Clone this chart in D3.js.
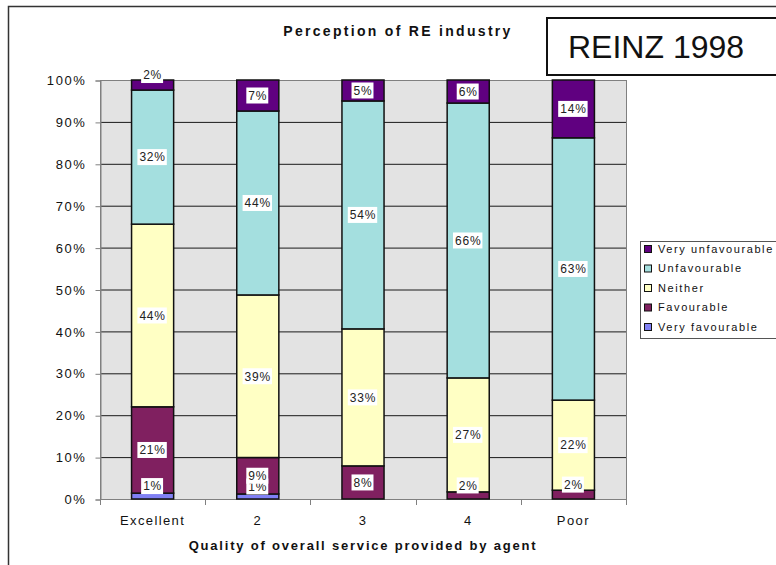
<!DOCTYPE html>
<html>
<head>
<meta charset="utf-8">
<script src="https://cdn.jsdelivr.net/npm/d3@7"></script>
<style>
  body { margin: 0; background: #fff; }
  text { font-family: "Liberation Sans", Arial, sans-serif; }
</style>
</head>
<body>
<div id="chart"></div>
<script>
// categories and series (percent of respondents)
var categories = ["Excellent", "2", "3", "4", "Poor"];
var seriesNames = ["Very favourable", "Favourable", "Neither", "Unfavourable", "Very unfavourable"];
var veryFavourable   = [1.4, 1.2, 0, 0, 0];
var favourable       = [20.6, 8.7, 7.9, 1.7, 2.1];
var neither          = [43.6, 38.8, 32.7, 27.2, 21.5];
var unfavourable     = [32.0, 43.9, 54.4, 65.6, 62.6];
var veryUnfavourable = [2.4, 7.4, 5.0, 5.5, 13.8];
var yTicks = [0, 10, 20, 30, 40, 50, 60, 70, 80, 90, 100];

var colors = {
    "Very favourable": "#8080f4",
    "Favourable": "#802060",
    "Neither": "#ffffc4",
    "Unfavourable": "#a4dfdf",
    "Very unfavourable": "#600080"
};

var svgWidth = 776, svgHeight = 565;
var plot = { left: 100, top: 80, right: 626, bottom: 499 };

var svg = d3.select("#chart").append("svg")
    .attr("width", svgWidth)
    .attr("height", svgHeight);

// outer chart frame (runs off the page on right and bottom)
svg.append("rect")
    .attr("x", 8.5).attr("y", 6.5)
    .attr("width", 820).attr("height", 620)
    .attr("fill", "#fff")
    .attr("stroke", "#333")
    .attr("stroke-width", 1.5);

// build rows for the stack
var rows = categories.map(function (c, i) {
    return {
        cat: c,
        "Very favourable": veryFavourable[i],
        "Favourable": favourable[i],
        "Neither": neither[i],
        "Unfavourable": unfavourable[i],
        "Very unfavourable": veryUnfavourable[i]
    };
});
var stacked = d3.stack().keys(seriesNames)(rows);

var x = d3.scaleBand()
    .domain(categories)
    .range([plot.left, plot.right])
    .paddingInner(0.6)
    .paddingOuter(0.3);

var y = d3.scaleLinear()
    .domain([0, 100])
    .range([plot.bottom, plot.top]);

// plot background
svg.append("rect")
    .attr("x", plot.left).attr("y", plot.top)
    .attr("width", plot.right - plot.left)
    .attr("height", plot.bottom - plot.top)
    .attr("fill", "#e3e3e3");

// gridlines
svg.append("g").selectAll("line")
    .data(yTicks.slice(1, -1))
    .enter().append("line")
    .attr("x1", plot.left).attr("x2", plot.right)
    .attr("y1", d => y(d) + 0.5).attr("y2", d => y(d) + 0.5)
    .attr("stroke", "#1a1a1a")
    .attr("stroke-width", 1);

// plot border
svg.append("rect")
    .attr("x", plot.left + 0.5).attr("y", plot.top + 0.5)
    .attr("width", plot.right - plot.left)
    .attr("height", plot.bottom - plot.top)
    .attr("fill", "none")
    .attr("stroke", "#808080");

// y axis
var yAxis = d3.axisLeft(y)
    .tickValues(yTicks)
    .tickSize(5)
    .tickPadding(9)
    .tickFormat(d => d + "%");
var yG = svg.append("g")
    .attr("transform", `translate(${plot.left + 0.5}, 0.5)`)
    .call(yAxis);
yG.select(".domain").attr("stroke", "#808080");
yG.selectAll(".tick line").attr("stroke", "#808080");
yG.selectAll(".tick text")
    .attr("font-size", "13px")
    .attr("letter-spacing", "1.6px")
    .attr("fill", "#111");

// x axis: ticks sit between categories
var step = x.step();
var boundaries = d3.range(categories.length + 1).map(i => plot.left + i * step);
svg.append("line")
    .attr("x1", plot.left).attr("x2", plot.right)
    .attr("y1", plot.bottom + 0.5).attr("y2", plot.bottom + 0.5)
    .attr("stroke", "#808080");
svg.append("g").selectAll("line")
    .data(boundaries)
    .enter().append("line")
    .attr("x1", d => Math.round(d) + 0.5).attr("x2", d => Math.round(d) + 0.5)
    .attr("y1", plot.bottom).attr("y2", plot.bottom + 6)
    .attr("stroke", "#808080");
svg.append("g").selectAll("text")
    .data(categories)
    .enter().append("text")
    .attr("x", d => x(d) + x.bandwidth() / 2)
    .attr("y", 525)
    .attr("text-anchor", "middle")
    .attr("font-size", "13px")
    .attr("letter-spacing", "1.4px")
    .attr("fill", "#111")
    .text(d => d);

// bars
var layer = svg.append("g").selectAll("g")
    .data(stacked)
    .enter().append("g")
    .attr("fill", d => colors[d.key]);

layer.selectAll("rect")
    .data(d => d)
    .enter().append("rect")
    .attr("x", d => x(d.data.cat))
    .attr("y", d => y(d[1]))
    .attr("width", x.bandwidth())
    .attr("height", d => y(d[0]) - y(d[1]))
    .attr("stroke", "#111")
    .attr("stroke-width", 1.5);

// data labels (tiny segments get their label nudged up, as in the original)
var labels = [];
stacked.forEach(function (s) {
    s.forEach(function (d) {
        var v = d[1] - d[0];
        if (v <= 0) return;
        var cy = (y(d[0]) + y(d[1])) / 2;
        if (v < 3) cy -= 10;
        labels.push({ x: x(d.data.cat) + x.bandwidth() / 2, y: cy, text: Math.round(v) + "%" });
    });
});

var lab = svg.append("g").selectAll("g")
    .data(labels)
    .enter().append("g")
    .attr("transform", d => `translate(${d.x}, ${d.y})`);
lab.append("text")
    .attr("text-anchor", "middle")
    .attr("dy", "0.36em")
    .attr("font-size", "12px")
    .attr("letter-spacing", "0.8px")
    .attr("fill", "#222")
    .text(d => d.text);
lab.each(function () {
    var g = d3.select(this);
    var bb = g.select("text").node().getBBox();
    g.insert("rect", "text")
        .attr("x", bb.x - 2).attr("y", -8)
        .attr("width", bb.width + 3).attr("height", 16)
        .attr("fill", "#fff");
});

// title
svg.append("text")
    .attr("x", 398).attr("y", 36)
    .attr("text-anchor", "middle")
    .attr("font-size", "14px")
    .attr("font-weight", "bold")
    .attr("letter-spacing", "2.3px")
    .attr("fill", "#111")
    .text("Perception of RE industry");

// x axis title
svg.append("text")
    .attr("x", 363).attr("y", 550)
    .attr("text-anchor", "middle")
    .attr("font-size", "13px")
    .attr("font-weight", "bold")
    .attr("letter-spacing", "1.8px")
    .attr("fill", "#111")
    .text("Quality of overall service provided by agent");

// REINZ box
svg.append("rect")
    .attr("x", 547).attr("y", 18)
    .attr("width", 260).attr("height", 57)
    .attr("fill", "#fff")
    .attr("stroke", "#111")
    .attr("stroke-width", 2);
svg.append("text")
    .attr("x", 568).attr("y", 58)
    .attr("font-size", "32px")
    .attr("fill", "#111")
    .text("REINZ 1998");

// legend
var legendItems = seriesNames.slice().reverse();
var legend = svg.append("g");
legend.append("rect")
    .attr("x", 640.5).attr("y", 241.5)
    .attr("width", 160).attr("height", 97)
    .attr("fill", "#fff")
    .attr("stroke", "#555");
var li = legend.selectAll("g")
    .data(legendItems)
    .enter().append("g")
    .attr("transform", (d, i) => `translate(644, ${249 + i * 19.5})`);
li.append("rect")
    .attr("x", 0.5).attr("y", -3.5)
    .attr("width", 7).attr("height", 7)
    .attr("fill", d => colors[d])
    .attr("stroke", "#111");
li.append("text")
    .attr("x", 14).attr("dy", "0.36em")
    .attr("font-size", "11px")
    .attr("letter-spacing", "1.6px")
    .attr("fill", "#111")
    .text(d => d);
</script>
</body>
</html>
